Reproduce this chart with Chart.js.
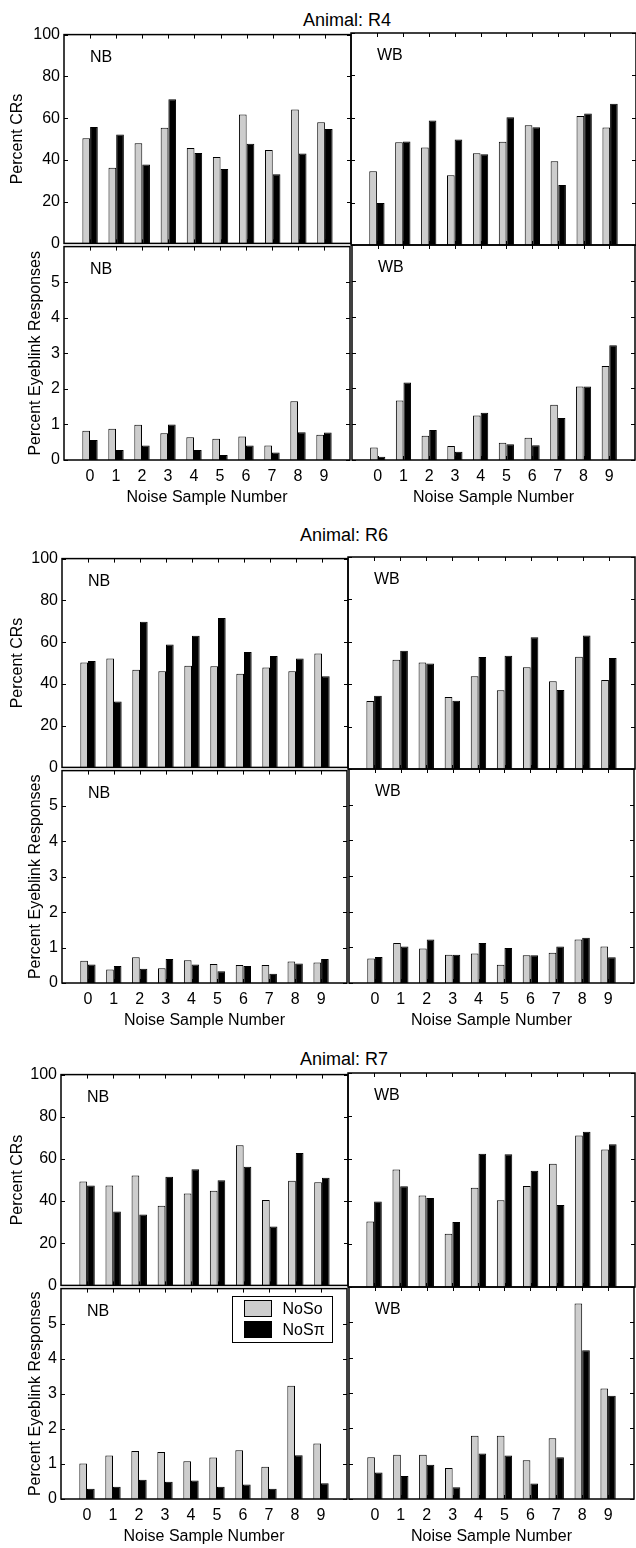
<!DOCTYPE html>
<html>
<head>
<meta charset="utf-8">
<script src="https://cdn.jsdelivr.net/npm/chart.js@4.4.1/dist/chart.umd.min.js"></script>
<style>
  body { margin: 0; background: #fff; }
  #page { position: relative; width: 636px; height: 1548px; overflow: hidden; background: #fff; font-family: 'Liberation Sans', Arial, sans-serif; }
  #page canvas { position: absolute; }
  .animal { position: absolute; font-size: 18px; line-height: 18px; transform: translateX(-50%); white-space: nowrap; color: #000; }
</style>
</head>
<body>
<div id="page"></div>
<script>
// x categories and tick labels
const noiseSamples = ['0', '1', '2', '3', '4', '5', '6', '7', '8', '9'];
const crTicks = [0, 20, 40, 60, 80, 100];
const eyeblinkTicks = [0, 1, 2, 3, 4, 5];
const seriesNames = ['NoSo', 'NoS\u03C0'];
const animalNames = ['R4', 'R6', 'R7'];

// Animal R4
const r4CrNbNoSo = [50.4, 36.2, 48.0, 55.4, 45.7, 41.4, 61.7, 44.7, 64.1, 58.0];
const r4CrNbNoSpi = [55.7, 52.1, 37.8, 69.0, 43.3, 35.6, 47.7, 33.1, 43.0, 54.8];
const r4CrWbNoSo = [34.8, 48.5, 46.0, 32.9, 43.3, 48.7, 56.5, 39.5, 60.9, 55.4];
const r4CrWbNoSpi = [19.8, 48.8, 58.7, 49.8, 42.8, 60.3, 55.6, 28.3, 62.0, 66.6];
const r4EbNbNoSo = [0.82, 0.88, 0.99, 0.75, 0.64, 0.60, 0.66, 0.41, 1.65, 0.71];
const r4EbNbNoSpi = [0.56, 0.28, 0.41, 1.00, 0.28, 0.14, 0.41, 0.21, 0.78, 0.77];
const r4EbWbNoSo = [0.35, 1.66, 0.68, 0.39, 1.24, 0.48, 0.62, 1.54, 2.05, 2.62];
const r4EbWbNoSpi = [0.09, 2.16, 0.84, 0.23, 1.32, 0.44, 0.41, 1.17, 2.05, 3.20];

// Animal R6
const r6CrNbNoSo = [50.2, 52.1, 46.8, 46.1, 48.7, 48.5, 44.9, 47.9, 46.1, 54.5];
const r6CrNbNoSpi = [51.0, 31.6, 69.7, 58.9, 63.0, 71.6, 55.3, 53.4, 52.1, 43.6];
const r6CrWbNoSo = [32.1, 51.5, 50.2, 34.0, 43.8, 37.1, 48.0, 41.4, 52.9, 42.0];
const r6CrWbNoSpi = [34.6, 55.8, 49.8, 32.2, 52.8, 53.4, 62.1, 37.3, 63.0, 52.4];
const r6EbNbNoSo = [0.63, 0.38, 0.73, 0.42, 0.64, 0.54, 0.51, 0.51, 0.61, 0.58];
const r6EbNbNoSpi = [0.52, 0.48, 0.40, 0.68, 0.52, 0.33, 0.48, 0.26, 0.55, 0.68];
const r6EbWbNoSo = [0.69, 1.12, 0.97, 0.79, 0.83, 0.51, 0.78, 0.85, 1.22, 1.02];
const r6EbWbNoSpi = [0.73, 1.02, 1.22, 0.79, 1.12, 0.98, 0.78, 1.02, 1.27, 0.72];

// Animal R7
const r7CrNbNoSo = [49.3, 47.4, 52.1, 37.8, 43.6, 44.9, 66.5, 40.5, 49.6, 48.9];
const r7CrNbNoSpi = [47.4, 35.1, 33.6, 51.6, 55.1, 49.9, 56.3, 27.9, 62.8, 51.1];
const r7CrWbNoSo = [30.6, 54.9, 42.8, 24.9, 46.4, 40.5, 47.2, 57.6, 70.8, 64.2];
const r7CrWbNoSpi = [40.0, 47.1, 41.6, 30.4, 62.3, 62.0, 54.3, 38.3, 72.6, 66.7];
const r7EbNbNoSo = [1.01, 1.24, 1.37, 1.34, 1.08, 1.18, 1.39, 0.92, 3.23, 1.58];
const r7EbNbNoSpi = [0.29, 0.35, 0.55, 0.49, 0.53, 0.35, 0.41, 0.29, 1.25, 0.45];
const r7EbWbNoSo = [1.18, 1.25, 1.25, 0.88, 1.79, 1.79, 1.10, 1.72, 5.53, 3.13];
const r7EbWbNoSpi = [0.75, 0.65, 0.97, 0.33, 1.29, 1.23, 0.44, 1.18, 4.21, 2.92];

const animalSeries = [
  { crNb: [r4CrNbNoSo, r4CrNbNoSpi], crWb: [r4CrWbNoSo, r4CrWbNoSpi], ebNb: [r4EbNbNoSo, r4EbNbNoSpi], ebWb: [r4EbWbNoSo, r4EbWbNoSpi] },
  { crNb: [r6CrNbNoSo, r6CrNbNoSpi], crWb: [r6CrWbNoSo, r6CrWbNoSpi], ebNb: [r6EbNbNoSo, r6EbNbNoSpi], ebWb: [r6EbWbNoSo, r6EbWbNoSpi] },
  { crNb: [r7CrNbNoSo, r7CrNbNoSpi], crWb: [r7CrWbNoSo, r7CrWbNoSpi], ebNb: [r7EbNbNoSo, r7EbNbNoSpi], ebWb: [r7EbWbNoSo, r7EbWbNoSpi] }
];

// page layout of each animal block (pixels)
const blocks = [
  { left: 64, mid: 351, right: 636, top: 33, split: 245, bottom: 460, titleX: 347, titleTop: 11 },
  { left: 62, mid: 348, right: 635, top: 557, split: 769, bottom: 983, titleX: 344, titleTop: 526 },
  { left: 61, mid: 348, right: 635, top: 1073, split: 1287, bottom: 1499, titleX: 344, titleTop: 1050 }
];

const FONT = "'Liberation Sans', Arial, sans-serif";
const GREY = '#cdcdcd';
Chart.defaults.font.family = FONT;
Chart.defaults.font.size = 16;
Chart.defaults.color = '#000';

// box, inward ticks, NB/WB tag and the in-plot legend
const panelFrame = {
  id: 'panelFrame',
  afterDraw(chart, args, opts) {
    const { ctx, chartArea: a, scales: { x, y } } = chart;
    ctx.save();
    ctx.strokeStyle = '#000';
    ctx.lineWidth = 1.5;
    ctx.strokeRect(a.left, a.top, a.right - a.left, a.bottom - a.top);
    ctx.lineWidth = 1;
    ctx.beginPath();
    opts.marks.forEach(v => {
      const py = Math.round(y.getPixelForValue(v)) + 0.5;
      ctx.moveTo(a.left, py); ctx.lineTo(a.left + 4, py);
      ctx.moveTo(a.right - 4, py); ctx.lineTo(a.right, py);
    });
    chart.data.labels.forEach((lab, i) => {
      if (lab === '') return;
      const px = Math.round(x.getPixelForValue(i)) + 0.5;
      ctx.moveTo(px, a.top); ctx.lineTo(px, a.top + 4);
      ctx.moveTo(px, a.bottom); ctx.lineTo(px, a.bottom - 4);
    });
    ctx.stroke();

    ctx.fillStyle = '#000';
    ctx.font = '16px ' + FONT;
    ctx.textBaseline = 'middle';
    ctx.fillText(opts.tag, a.left + 26, a.top + 23);

    if (opts.legend) {
      const bx = Math.round(a.right - 115) + 0.5, by = Math.round(a.top + 7) + 0.5;
      ctx.fillStyle = '#fff';
      ctx.fillRect(bx, by, 100, 46);
      ctx.strokeRect(bx, by, 100, 46);
      chart.data.datasets.forEach((ds, k) => {
        const sy = by + 4 + k * 21;
        ctx.fillStyle = ds.backgroundColor;
        ctx.fillRect(bx + 12, sy, 27, 16);
        ctx.strokeRect(bx + 12, sy, 27, 16);
        ctx.fillStyle = '#000';
        ctx.fillText(ds.label, bx + 50, sy + 9);
      });
    }
    ctx.restore();
  }
};

const page = document.getElementById('page');

function drawPanel(p) {
  const L = p.showY ? p.left : 6;
  const T = 12, R = 6;
  const B = p.showX ? 52 : 12;
  const canvas = document.createElement('canvas');
  canvas.width = p.width + L + R;
  canvas.height = p.height + T + B;
  canvas.style.left = (p.left - L) + 'px';
  canvas.style.top = (p.top - T) + 'px';
  page.appendChild(canvas);

  new Chart(canvas.getContext('2d'), {
    type: 'bar',
    data: {
      labels: ['', ...noiseSamples, ''],
      datasets: [
        { label: seriesNames[0], data: [null, ...p.series[0], null], backgroundColor: GREY, borderColor: '#000', borderWidth: 1 },
        { label: seriesNames[1], data: [null, ...p.series[1], null], backgroundColor: '#000', borderColor: '#000', borderWidth: 1 }
      ]
    },
    options: {
      responsive: false,
      animation: false,
      devicePixelRatio: 1,
      layout: { padding: { left: 0, top: T, right: R, bottom: 0 } },
      datasets: { bar: { categoryPercentage: 0.59, barPercentage: 1 } },
      plugins: {
        legend: { display: false },
        tooltip: { enabled: false },
        panelFrame: { tag: p.tag, marks: p.ticks, legend: !!p.legend }
      },
      scales: {
        x: {
          offset: false,
          grid: { display: false, drawTicks: false },
          border: { display: false },
          ticks: { display: p.showX, autoSkip: false, maxRotation: 0, padding: 7 },
          title: { display: p.showX, text: 'Noise Sample Number', padding: { top: 0, bottom: 5 } },
          afterFit: s => { s.height = B; }
        },
        y: {
          min: 0,
          max: p.max,
          grid: { display: false, drawTicks: false },
          border: { display: false },
          ticks: {
            display: p.showY,
            stepSize: p.step,
            padding: 4,
            callback: v => (p.ticks.includes(v) ? String(v) : '')
          },
          title: { display: !!p.yTitle, text: p.yTitle || '', padding: { top: p.yTitlePad || 0, bottom: 0 } },
          afterFit: s => { s.width = L; }
        }
      }
    },
    plugins: [panelFrame]
  });
}

blocks.forEach((b, i) => {
  const title = document.createElement('div');
  title.className = 'animal';
  title.textContent = 'Animal: ' + animalNames[i];
  title.style.left = b.titleX + 'px';
  title.style.top = b.titleTop + 'px';
  page.appendChild(title);

  const s = animalSeries[i];
  const crAxis = { max: 100, step: 20, ticks: crTicks };
  const ebAxis = { max: 6, step: 1, ticks: eyeblinkTicks };

  drawPanel({ ...crAxis, left: b.left, top: b.top, width: b.mid - b.left, height: b.split - b.top,
    showY: true, showX: false, yTitle: 'Percent CRs', yTitlePad: 8, tag: 'NB', series: s.crNb });
  drawPanel({ ...crAxis, left: b.mid, top: b.top, width: b.right - b.mid, height: b.split - b.top,
    showY: false, showX: false, tag: 'WB', series: s.crWb });
  drawPanel({ ...ebAxis, left: b.left, top: b.split, width: b.mid - b.left, height: b.bottom - b.split,
    showY: true, showX: true, yTitle: 'Percent Eyeblink Responses', yTitlePad: 26, tag: 'NB',
    series: s.ebNb, legend: i === 2 });
  drawPanel({ ...ebAxis, left: b.mid, top: b.split, width: b.right - b.mid, height: b.bottom - b.split,
    showY: false, showX: true, tag: 'WB', series: s.ebWb });
});
</script>
</body>
</html>
